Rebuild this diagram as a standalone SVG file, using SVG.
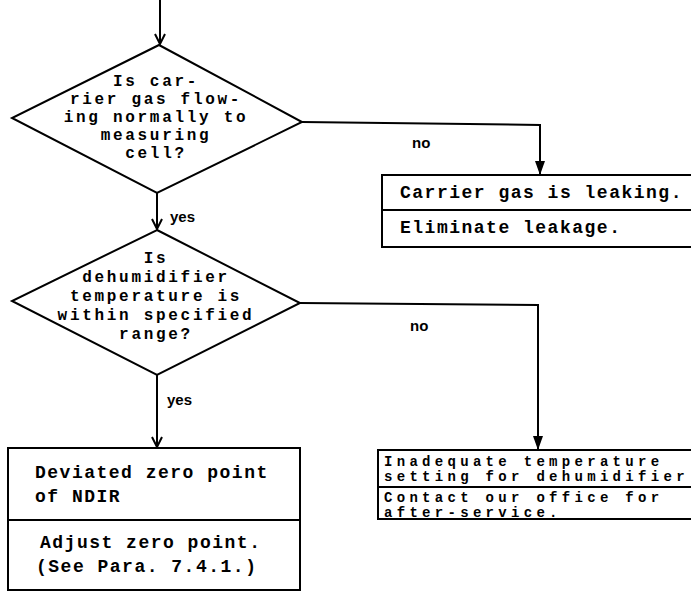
<svg xmlns="http://www.w3.org/2000/svg" width="691" height="591" viewBox="0 0 691 591">
<style>
.s{fill:none;stroke:#000;stroke-width:2}
.t{font-family:"Liberation Mono","DejaVu Sans Mono",monospace;font-weight:bold;font-size:18px;letter-spacing:1.5px;fill:#000}
.d{font-size:16px;letter-spacing:2.7px}
.n{font-size:14px;letter-spacing:4.3px}
.c{text-anchor:middle}
.l{font-family:"Liberation Sans","DejaVu Sans",sans-serif;font-weight:bold;font-size:15px;fill:#000}
</style>
<defs>
<marker id="v" markerWidth="14" markerHeight="12" refX="13" refY="6" orient="auto" markerUnits="userSpaceOnUse" viewBox="0 0 14 12">
<path d="M3,1 L13,6 L3,11" fill="none" stroke="#000" stroke-width="2"/>
</marker>
<marker id="f" markerWidth="14" markerHeight="10" refX="14" refY="5" orient="auto" markerUnits="userSpaceOnUse" viewBox="0 0 14 10">
<path d="M0,0 L14,5 L0,10 Z" fill="#000"/>
</marker>
</defs>
<g id="connectors">
<line class="s" x1="160" y1="0" x2="160" y2="44" marker-end="url(#v)"/>
<line class="s" x1="157" y1="193" x2="157" y2="229" marker-end="url(#v)"/>
<polyline class="s" points="302,122 540,125 540,175" marker-end="url(#f)"/>
<text class="l" x="412" y="148">no</text>
<text class="l" x="170" y="222">yes</text>
<line class="s" x1="157" y1="375" x2="157" y2="447" marker-end="url(#v)"/>
<text class="l" x="167" y="405">yes</text>
<polyline class="s" points="300,303 538,305 538,450" marker-end="url(#f)"/>
<text class="l" x="410" y="331">no</text>
</g>
<g id="q1">
<polygon class="s" points="159,45 302,122 157,193 12,118"/>
<text class="t d c" x="156" y="86">Is car-</text>
<text class="t d c" x="156" y="104">rier gas flow-</text>
<text class="t d c" x="156" y="122">ing normally to</text>
<text class="t d c" x="156" y="140">measuring</text>
<text class="t d c" x="156" y="158">cell?</text>
</g>
<g id="r1">
<rect class="s" x="382" y="175" width="320" height="72"/>
<line class="s" x1="382" y1="210" x2="691" y2="210"/>
<text class="t" x="400" y="198">Carrier gas is leaking.</text>
<text class="t" x="400" y="233">Eliminate leakage.</text>
</g>
<g id="q2">
<polygon class="s" points="157,230 300,303 157,375 12,301"/>
<text class="t d c" x="156" y="263">Is</text>
<text class="t d c" x="156" y="282">dehumidifier</text>
<text class="t d c" x="156" y="301">temperature is</text>
<text class="t d c" x="156" y="320">within specified</text>
<text class="t d c" x="156" y="339">range?</text>
</g>
<g id="r2">
<rect class="s" x="8" y="448" width="292" height="142"/>
<line class="s" x1="8" y1="520" x2="300" y2="520"/>
<text class="t" x="35" y="478">Deviated zero point</text>
<text class="t" x="35" y="502">of NDIR</text>
<text class="t" x="40" y="548">Adjust zero point.</text>
<text class="t" x="36" y="572">(See Para. 7.4.1.)</text>
</g>
<g id="r3">
<rect class="s" x="378" y="450" width="320" height="69"/>
<line class="s" x1="378" y1="487" x2="691" y2="487"/>
<text class="t n" x="384" y="466">Inadequate temperature</text>
<text class="t n" x="384" y="481">setting for dehumidifier</text>
<text class="t n" x="384" y="502">Contact our office for</text>
<text class="t n" x="384" y="517">after-service.</text>
</g>
</svg>
